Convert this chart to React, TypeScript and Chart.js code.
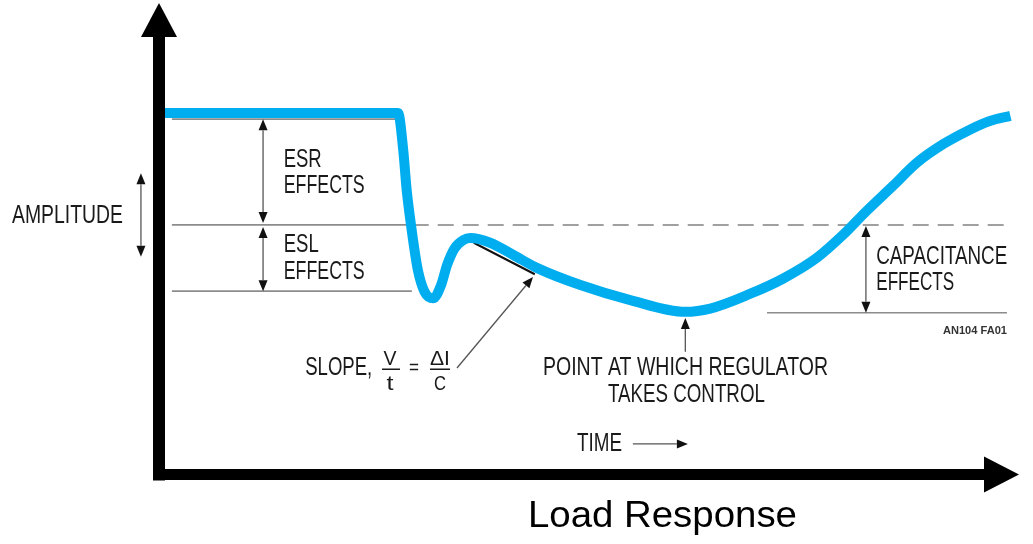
import React, { useEffect, useRef } from "react";
import { Chart, registerables } from "chart.js";

Chart.register(...registerables);

// Load-response waveform: time (arbitrary units 0–100) vs amplitude (arbitrary units 0–100)
const timeValues = [
  0.7, 27.8, 28.4, 28.8, 29.3, 30.1, 30.9, 31.9, 32.8, 33.5, 34.4, 35.4, 36.2, 38.5, 41.2, 44.0,
  49.0, 54.8, 61.2, 64.1, 68.7, 72.6, 76.5, 79.5, 82.3, 85.4, 88.1, 91.2, 94.0, 96.6, 99.0,
];
const amplitudeValues = [
  76.8, 76.8, 68.9, 60.4, 53.0, 43.4, 38.7, 37.4, 40.2, 44.5, 48.1, 49.8, 50.2, 49.2, 46.6, 43.8,
  40.2, 37.0, 34.5, 35.2, 38.3, 41.6, 46.0, 50.8, 56.0, 61.4, 66.2, 70.2, 73.0, 75.1, 76.2,
];

// Reference levels (amplitude units)
const levelInitial = 75.5;
const levelEsr = 53.0;
const levelEsl = 38.9;
const levelRegulator = 34.3;

// Text labels
const axisYLabel = "AMPLITUDE";
const axisXLabel = "TIME";
const chartTitle = "Load Response";
const esrLabel = ["ESR", "EFFECTS"];
const eslLabel = ["ESL", "EFFECTS"];
const capLabel = ["CAPACITANCE", "EFFECTS"];
const regulatorLabel = ["POINT AT WHICH REGULATOR", "TAKES CONTROL"];
const slopeLabel = ["SLOPE,", "V", "t", "=", "\u0394I", "C"];
const figureCode = "AN104 FA01";

const BLUE = "#00AEEF";
const FONT = "'Liberation Sans', Arial, sans-serif";

function arrowHead(ctx: CanvasRenderingContext2D, fx: number, fy: number, tx: number, ty: number, len = 11, hw = 4.5) {
  const a = Math.atan2(ty - fy, tx - fx);
  const bx = tx - len * Math.cos(a);
  const by = ty - len * Math.sin(a);
  const px = -Math.sin(a) * hw;
  const py = Math.cos(a) * hw;
  ctx.beginPath();
  ctx.moveTo(tx, ty);
  ctx.lineTo(bx + px, by + py);
  ctx.lineTo(bx - px, by - py);
  ctx.closePath();
  ctx.fill();
  return [bx, by];
}

function arrow(ctx: CanvasRenderingContext2D, x1: number, y1: number, x2: number, y2: number, both: boolean) {
  ctx.save();
  ctx.strokeStyle = "#555";
  ctx.fillStyle = "#111";
  ctx.lineWidth = 1.3;
  const [bx2, by2] = arrowHead(ctx, x1, y1, x2, y2);
  let sx = x1, sy = y1;
  if (both) {
    const [bx1, by1] = arrowHead(ctx, x2, y2, x1, y1);
    sx = bx1; sy = by1;
  }
  ctx.beginPath();
  ctx.moveTo(sx, sy);
  ctx.lineTo(bx2, by2);
  ctx.stroke();
  ctx.restore();
}

function text(
  ctx: CanvasRenderingContext2D, s: string, x: number, y: number, size: number, width: number,
  align: "left" | "center" | "right" = "left", weight = "normal", color = "#1a1a1a", baseline: CanvasTextBaseline = "middle"
) {
  ctx.save();
  ctx.font = `${weight} ${size}px ${FONT}`;
  ctx.fillStyle = color;
  ctx.textBaseline = baseline;
  const natural = ctx.measureText(s).width;
  const sx = width / natural;
  let left = x;
  if (align === "center") left = x - width / 2;
  if (align === "right") left = x - width;
  ctx.translate(left, y);
  ctx.scale(sx, 1);
  ctx.textAlign = "left";
  ctx.fillText(s, 0, 0);
  ctx.restore();
}

const diagramPlugin = {
  id: "diagram",
  beforeDatasetsDraw(chart: any) {
    const { ctx } = chart;
    const X = (v: number) => chart.scales.x.getPixelForValue(v);
    const Y = (v: number) => chart.scales.y.getPixelForValue(v);
    ctx.save();
    ctx.strokeStyle = "#8c8c8c";
    ctx.lineWidth = 1.6;
    const hline = (a: number, b: number, lv: number) => {
      ctx.beginPath();
      ctx.moveTo(X(a), Y(lv));
      ctx.lineTo(X(b), Y(lv));
      ctx.stroke();
    };
    hline(1.5, 27.8, levelInitial);
    hline(1.5, 29.5, levelEsr);
    hline(1.5, 29.4, levelEsl);
    hline(70.7, 98.6, levelRegulator);
    ctx.setLineDash([16, 9]);
    ctx.strokeStyle = "#a0a0a0";
    ctx.lineWidth = 2;
    hline(29.5, 98.6, levelEsr);
    ctx.setLineDash([]);
    // slope tangent
    ctx.strokeStyle = "#111";
    ctx.lineWidth = 2;
    ctx.beginPath();
    ctx.moveTo(X(36.6), Y(49.2));
    ctx.lineTo(X(43.7), Y(42.5));
    ctx.stroke();
    ctx.restore();
  },
  afterDatasetsDraw(chart: any) {
    const { ctx } = chart;
    const X = (v: number) => chart.scales.x.getPixelForValue(v);
    const Y = (v: number) => chart.scales.y.getPixelForValue(v);
    ctx.save();
    ctx.fillStyle = "#000";
    // y axis
    const ax = X(0);
    const ay = Y(0) + 0.5;
    const yTop = Y(100) - 1;
    ctx.fillRect(ax - 6, yTop + 34, 12, ay + 6 - (yTop + 34));
    ctx.beginPath();
    ctx.moveTo(ax, yTop);
    ctx.lineTo(ax + 18, yTop + 34);
    ctx.lineTo(ax - 18, yTop + 34);
    ctx.closePath();
    ctx.fill();
    // x axis
    const xRight = X(100);
    ctx.fillRect(ax - 6, ay - 5.5, xRight - 35 - (ax - 6), 11);
    ctx.beginPath();
    ctx.moveTo(xRight, ay);
    ctx.lineTo(xRight - 35, ay - 18);
    ctx.lineTo(xRight - 35, ay + 18);
    ctx.closePath();
    ctx.fill();
    ctx.restore();

    // dimension arrows
    arrow(ctx, X(12.1), Y(levelInitial), X(12.1), Y(levelEsr) - 2, true);
    arrow(ctx, X(12.1), Y(levelEsr) + 2, X(12.1), Y(levelEsl), true);
    arrow(ctx, X(82.2), Y(levelEsr) + 1, X(82.2), Y(levelRegulator), true);
    arrow(ctx, X(-2.1), Y(64.0), X(-2.1), Y(46.2), true);
    arrow(ctx, X(61.2), Y(26.0), X(61.2), Y(33.2), false);
    arrow(ctx, X(34.65), Y(22.55), X(43.49), Y(41.91), false);
    arrow(ctx, X(55.1), Y(6.4), X(61.5), Y(6.4), false);

    // labels
    text(ctx, axisYLabel, X(-17.1), Y(54.9), 25, 111);
    text(ctx, esrLabel[0], X(14.5), Y(66.8), 25, 38);
    text(ctx, esrLabel[1], X(14.5), Y(61.3), 25, 81);
    text(ctx, eslLabel[0], X(14.5), Y(48.7), 25, 35);
    text(ctx, eslLabel[1], X(14.5), Y(43.0), 25, 81);
    text(ctx, capLabel[0], X(83.4), Y(46.2), 25, 131);
    text(ctx, capLabel[1], X(83.4), Y(40.6), 25, 78);
    text(ctx, figureCode, X(98.6), Y(30.4), 10, 64, "right", "bold", "#333");
    text(ctx, regulatorLabel[0], X(44.65), Y(22.55), 25, 285);
    text(ctx, regulatorLabel[1], X(52.2), Y(16.8), 25, 157);
    text(ctx, axisXLabel, X(48.6), Y(6.4), 26, 45);

    // slope formula
    text(ctx, slopeLabel[0], X(17.0), Y(22.55), 25, 67);
    text(ctx, slopeLabel[1], X(26.86), Y(24.5), 21, 13, "center");
    text(ctx, slopeLabel[2], X(26.86), Y(19.0), 21, 7, "center");
    text(ctx, slopeLabel[3], X(29.65), Y(22.4), 20, 10, "center");
    text(ctx, slopeLabel[4], X(32.67), Y(24.5), 21, 20, "center");
    text(ctx, slopeLabel[5], X(32.67), Y(19.0), 21, 12, "center");
    ctx.save();
    ctx.strokeStyle = "#1a1a1a";
    ctx.lineWidth = 1.4;
    ctx.beginPath();
    ctx.moveTo(X(25.93), Y(22.3));
    ctx.lineTo(X(28.02), Y(22.3));
    ctx.moveTo(X(31.51), Y(22.3));
    ctx.lineTo(X(33.84), Y(22.3));
    ctx.stroke();
    ctx.restore();

    // caption
    text(ctx, chartTitle, X(42.9), Y(-11.3), 37, 269, "left", "normal", "#000", "alphabetic");
  },
};

export default function App() {
  const ref = useRef<HTMLCanvasElement | null>(null);
  useEffect(() => {
    if (!ref.current) return;
    const chart = new Chart(ref.current, {
      type: "line",
      data: {
        datasets: [
          {
            data: timeValues.map((t, i) => ({ x: t, y: amplitudeValues[i] })),
            borderColor: BLUE,
            borderWidth: 10,
            pointRadius: 0,
            cubicInterpolationMode: "monotone",
            borderCapStyle: "butt",
            borderJoinStyle: "round",
            clip: false,
          } as any,
        ],
      },
      options: {
        animation: false,
        responsive: false,
        devicePixelRatio: 1,
        layout: { padding: { left: 159, right: 14, top: 4, bottom: 70 } },
        plugins: { legend: { display: false }, tooltip: { enabled: false }, title: { display: false } },
        events: [],
        scales: {
          x: { type: "linear", min: 0, max: 100, display: false },
          y: { type: "linear", min: 0, max: 100, display: false },
        },
      },
      plugins: [diagramPlugin],
    });
    return () => chart.destroy();
  }, []);
  return (
    <div style={{ position: "fixed", left: 0, top: 0, width: 1033, height: 544, background: "#fff" }}>
      <canvas ref={ref} width={1033} height={544} style={{ display: "block" }} />
    </div>
  );
}
